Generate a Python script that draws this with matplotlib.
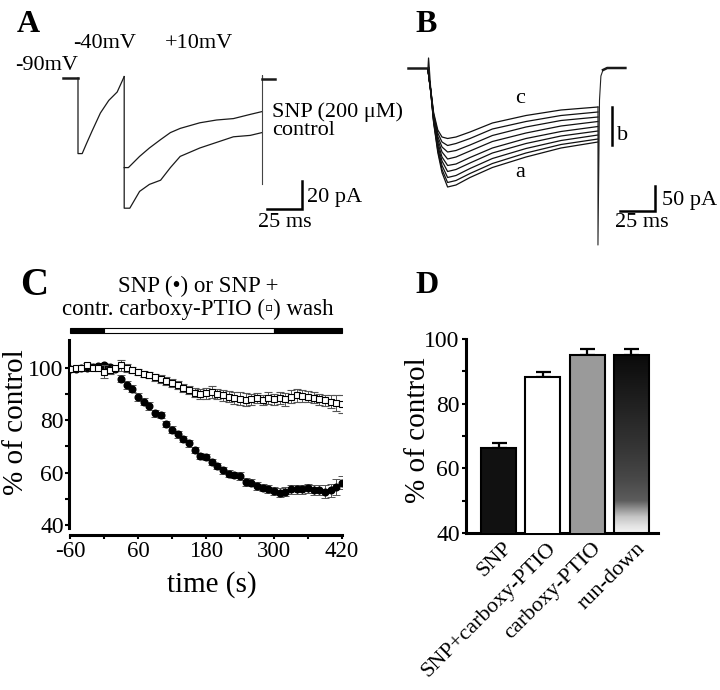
import numpy as np
import matplotlib
matplotlib.use("Agg")
import matplotlib.pyplot as plt
from matplotlib.colors import LinearSegmentedColormap
from matplotlib.patches import Rectangle
import matplotlib.transforms as mtransforms

plt.rcParams['font.family'] = ['Liberation Serif', 'DejaVu Serif']

# ---------------- data ----------------
# Panel A : current traces (time in ms, current in pA)
A_hold_t = [-11, 0]
A_hold_i = [0, 0]
A_m40_t = [0, 0, 3, 6, 10, 16, 22, 28, 33]
A_m40_i = [0, -54, -54, -47, -38, -25, -16, -10, 1]
A_ctrl_t = [33, 33, 37, 44, 51, 59, 66, 73, 80, 87, 99, 111, 123, 131.4]
A_ctrl_i = [1, -93, -93, -81, -76, -73, -64, -56, -53, -50, -46, -42, -41, -39]
A_snp_t = [33, 36, 39, 44, 51, 59, 66, 73, 80, 87, 99, 111, 123, 131.4]
A_snp_i = [-64, -64, -61, -56, -50, -44, -39, -36, -34, -32, -30, -29, -26, -24]
A_tail_t = [131.4, 131.4, 131.4, 141]
A_tail_i = [-76, 2, -1, -1]
A_scale_ms = 25
A_scale_pA = 20

# Panel B : family of traces (ms, pA), from trace "c" (top) to trace "a" (bottom)
B_t = [0, 2, 4, 7, 10, 14, 20, 30, 46, 70, 95, 121.4]
B_traces = [
    [0, -40, -85, -120, -134, -137, -134, -124, -106, -91, -80, -74],
    [0, -41, -88, -126, -144, -151, -147, -137, -118, -103, -91, -84],
    [0, -41, -91, -133, -154, -164, -161, -150, -131, -114, -101, -94],
    [0, -42, -93, -139, -164, -178, -174, -162, -143, -126, -112, -103],
    [0, -43, -96, -145, -174, -191, -188, -175, -156, -137, -123, -113],
    [0, -43, -99, -151, -182, -203, -199, -186, -166, -147, -132, -122],
    [0, -44, -101, -156, -191, -215, -211, -197, -177, -157, -141, -130],
    [0, -45, -103, -161, -199, -225, -221, -207, -187, -166, -149, -138],
    [0, -45, -105, -165, -205, -234, -230, -215, -195, -174, -156, -144],
]
B_hold_t = [-14.3, 0]
B_hold_i = [4, 4]
B_spike_t = [0, 0.4, 2]
B_spike_i = [4, 24, -40]
B_end_t = [121.4, 121.4, 122.5, 123.5, 125, 128, 141]
B_end_i = [-74, -350, -60, -12, 0, 4, 4]
B_b_range = [-74, -150]
B_scale_ms = 25
B_scale_pA = 50

# Panel C : time course (% of control)
C_time = list(range(-60, 421, 10))
C_snp = [99.5, 99.5, 99.8, 99.8, 100.3, 100.5, 101.0, 100.3, 99.5, 95.8,
         93.5, 92.0, 88.8, 87.0, 85.3, 82.5, 82.0, 78.6, 76.4, 74.5,
         72.7, 71.1, 68.6, 66.4, 65.9, 64.1, 62.5, 60.8, 59.5, 59.1,
         58.7, 56.4, 56.1, 54.9, 54.3, 53.8, 53.0, 52.3, 52.7, 53.6,
         53.6, 53.6, 54.0, 53.3, 53.3, 52.7, 53.3, 54.6, 56.2]
C_snp_err = [0.5, 0.5, 0.5, 0.5, 0.6, 0.6, 0.8, 0.8, 1.0, 1.2,
             1.5, 1.5, 1.5, 1.4, 1.5, 1.2, 1.2, 1.2, 1.2, 1.2,
             1.2, 1.2, 1.2, 1.2, 1.2, 1.2, 1.2, 1.3, 1.3, 1.3,
             1.4, 1.4, 1.4, 1.4, 1.5, 1.5, 1.6, 1.8, 1.8, 1.6,
             1.6, 1.6, 1.8, 1.8, 2.0, 2.5, 2.5, 3.0, 2.6]
C_ptio = [99.3, 99.7, 99.7, 100.8, 99.7, 100.0, 98.4, 98.9, 99.7, 100.8,
          99.7, 99.0, 98.2, 97.6, 97.1, 96.3, 95.7, 94.8, 94.2, 93.5,
          92.1, 91.4, 90.4, 89.9, 90.2, 90.6, 90.0, 89.4, 88.9, 88.3,
          88.1, 87.8, 87.9, 88.4, 87.7, 88.3, 87.9, 88.3, 87.9, 88.9,
          89.5, 89.1, 88.9, 88.5, 87.9, 87.5, 87.0, 86.4, 86.0]
C_ptio_err = [0.6, 0.6, 0.8, 1.0, 0.8, 1.0, 2.5, 1.5, 1.0, 2.0,
              1.5, 1.2, 1.2, 1.2, 1.2, 1.4, 1.4, 1.5, 1.5, 1.5,
              1.6, 1.6, 1.8, 2.0, 2.0, 2.2, 2.0, 2.0, 2.2, 2.2,
              2.5, 2.5, 2.2, 2.0, 2.0, 2.2, 2.0, 2.2, 2.5, 2.5,
              2.5, 2.2, 2.2, 2.0, 2.0, 2.2, 2.5, 3.0, 3.5]
C_protocol_edges = [-60, 0, 300, 420]
C_xticks = [-60, 60, 180, 300, 420]
C_xminor = [0, 120, 240, 360]
C_yticks = [40, 60, 80, 100]
C_yminor = [50, 70, 90]

# Panel D : bar chart
D_labels = ['SNP', 'SNP+carboxy-PTIO', 'carboxy-PTIO', 'run-down']
D_values = [66.2, 88.4, 95.1, 95.1]
D_err = [1.5, 1.4, 1.7, 1.9]
D_yticks = [40, 60, 80, 100]
D_yminor = [50, 70, 90]

# ---------------- figure ----------------
W, H = 720.0, 690.0
fig = plt.figure(figsize=(7.2, 6.9), dpi=100)


def add_ax(x0, y0, x1, y1):
    return fig.add_axes([x0 / W, 1 - y1 / H, (x1 - x0) / W, (y1 - y0) / H])


def ftxt(x, y, s, **kw):
    kw.setdefault('fontsize', 16)
    kw.setdefault('va', 'baseline')
    return fig.text(x / W, 1 - y / H, s, **kw)


tr = dict(color='#1a1a1a', lw=0.9, solid_joinstyle='round')
base = dict(color='#1a1a1a', lw=1.8)

# ---- Panel A ----
axA = add_ax(0, 0, 360, 250)
axA.set_xlim(-55.71, 201.43)
axA.set_ylim(-122.86, 55.71)
axA.axis('off')
axA.plot(A_hold_t, A_hold_i, **base)
axA.plot(A_m40_t, A_m40_i, **tr)
axA.plot(A_ctrl_t, A_ctrl_i, **tr)
axA.plot(A_snp_t, A_snp_i, **tr)
axA.plot(A_tail_t[:3], A_tail_i[:3], color='#444444', lw=0.8)
axA.plot(A_tail_t[2:], A_tail_i[2:], **base)
sx, sy = 160, -93.6
axA.plot([sx - A_scale_ms, sx, sx], [sy, sy, sy + A_scale_pA], color='k', lw=1.8,
         solid_joinstyle='miter')

ftxt(17, 32, 'A', fontsize=23, fontweight='bold')
ftxt(15, 70, '-90mV')
ftxt(73, 48, '-40mV')
ftxt(165, 48, '+10mV')
ftxt(272, 116.7, 'SNP (200 μM)')
ftxt(272, 135, 'control')
ftxt(307, 201.7, '20 pA')
ftxt(285, 227, '25 ms', ha='center')

# ---- Panel B ----
axB = add_ax(360, 0, 720, 250)
axB.set_xlim(-48.57, 208.57)
axB.set_ylim(-360, 140)
axB.axis('off')
axB.plot(B_hold_t, B_hold_i, **base)
axB.plot(B_spike_t, B_spike_i, **tr)
for trace in B_traces:
    axB.plot(B_t, trace, color='#111111', lw=0.9)
axB.plot(B_end_t, B_end_i, color='#222222', lw=0.8)
axB.plot(B_end_t[4:], B_end_i[4:], **base)
axB.plot([131.4, 131.4], B_b_range, color='k', lw=1.8)
sx, sy = 162, -282
axB.plot([sx - B_scale_ms, sx, sx], [sy, sy, sy + B_scale_pA], color='k', lw=1.8,
         solid_joinstyle='miter')

ftxt(415, 32, 'B', fontsize=23, fontweight='bold')
ftxt(520, 103.3, 'c', ha='center')
ftxt(520, 176.7, 'a', ha='center')
ftxt(617, 140, 'b')
ftxt(662, 205, '50 pA')
ftxt(642, 227, '25 ms', ha='center')


def style(ax):
    for s in ['top', 'right']:
        ax.spines[s].set_visible(False)
    for s in ['left', 'bottom']:
        ax.spines[s].set_linewidth(2.2)
    ax.tick_params(which='both', direction='out', length=3, width=1.5, color='k')


# ---- Panel C ----
axC = add_ax(70, 340, 342, 528.2)
style(axC)
axC.spines['bottom'].set_position(('outward', 4.9))
axC.spines['left'].set_position(('outward', 1.0))
axC.set_xlim(-60, 420)
axC.set_ylim(38.8, 110.5)
axC.set_xticks(C_xticks)
axC.set_xticks(C_xminor, minor=True)
axC.set_yticks(C_yticks)
axC.set_yticks(C_yminor, minor=True)
axC.tick_params(axis='x', labelsize=16.5, pad=1.5)
axC.tick_params(axis='y', labelsize=17, pad=0.5)
axC.set_xticklabels([str(v) for v in C_xticks])

axC.errorbar(C_time, C_snp, yerr=C_snp_err, fmt='o', ms=4.8, mfc='k', mec='k',
             ecolor='#555555', elinewidth=0.7, capsize=3, capthick=0.7, zorder=3)
axC.errorbar(C_time, C_ptio, yerr=C_ptio_err, fmt='s', ms=4.4, mfc='white', mec='k',
             mew=0.8, ecolor='#555555', elinewidth=0.7, capsize=3, capthick=0.7, zorder=4)

bar_colors = ['k', 'white', 'k']
for i in range(3):
    x0, x1 = C_protocol_edges[i], C_protocol_edges[i + 1]
    axC.add_patch(Rectangle((x0, 113.17), x1 - x0, 1.9, facecolor=bar_colors[i],
                            edgecolor='k', lw=0.8, clip_on=False))

ftxt(20, 295, 'C', fontsize=28, fontweight='bold')
ftxt(198, 291.7, 'SNP (•) or SNP +', ha='center', fontsize=16.5)
ftxt(198, 315, 'contr. carboxy-PTIO (▫) wash', ha='center', fontsize=16.5)
ftxt(212, 591.7, 'time (s)', ha='center', fontsize=21)
fig.text(16 / W, 1 - 422 / H, '% of control', rotation=90, ha='center', va='center',
         fontsize=21)

# ---- Panel D ----
axD = add_ax(466, 339, 658, 533)
style(axD)
xpos = np.arange(len(D_labels))
fills = ['#111111', 'white', '#9a9a9a', 'none']
bars = axD.bar(xpos, D_values, width=0.79, color=fills, edgecolor='k', lw=1.5, zorder=3)
axD.errorbar(xpos, D_values, yerr=[np.zeros(len(D_err)), D_err], fmt='none',
             ecolor='k', elinewidth=1.6, capsize=5.4, capthick=1.6, zorder=2)

cmap = LinearSegmentedColormap.from_list('rundown', [
    (0.0, '#f2f2f2'), (0.036, '#e4e4e4'), (0.09, '#c4c4c4'), (0.127, '#9a9a9a'),
    (0.18, '#5c5c5c'), (0.31, '#474747'), (0.49, '#343434'), (0.78, '#1c1c1c'),
    (1.0, '#0a0a0a')])
rb = bars[3]
grad = np.linspace(0, 1, 256).reshape(-1, 1)
im = axD.imshow(grad, extent=[rb.get_x(), rb.get_x() + rb.get_width(), 40, D_values[3]],
                origin='lower', cmap=cmap, aspect='auto', zorder=2.5)
im.set_clip_path(rb)

axD.set_xlim(-0.734, 3.6)
axD.set_ylim(40, 100)
axD.set_yticks(D_yticks)
axD.set_yticks(D_yminor, minor=True)
axD.tick_params(axis='y', labelsize=17, pad=1.5)
axD.set_xticks(xpos)
axD.tick_params(axis='x', length=0, pad=4)
axD.set_xticklabels(D_labels, rotation=45, ha='right', va='top', rotation_mode='anchor',
                    fontsize=16)
shift = mtransforms.ScaledTranslation(4 / 100, 0, fig.dpi_scale_trans)
for lab in axD.get_xticklabels():
    lab.set_transform(lab.get_transform() + shift)

ftxt(415, 293.3, 'D', fontsize=23, fontweight='bold')
fig.text(418 / W, 1 - 430 / H, '% of control', rotation=90, ha='center', va='center',
         fontsize=21)

fig.savefig('out.png', dpi=100)
